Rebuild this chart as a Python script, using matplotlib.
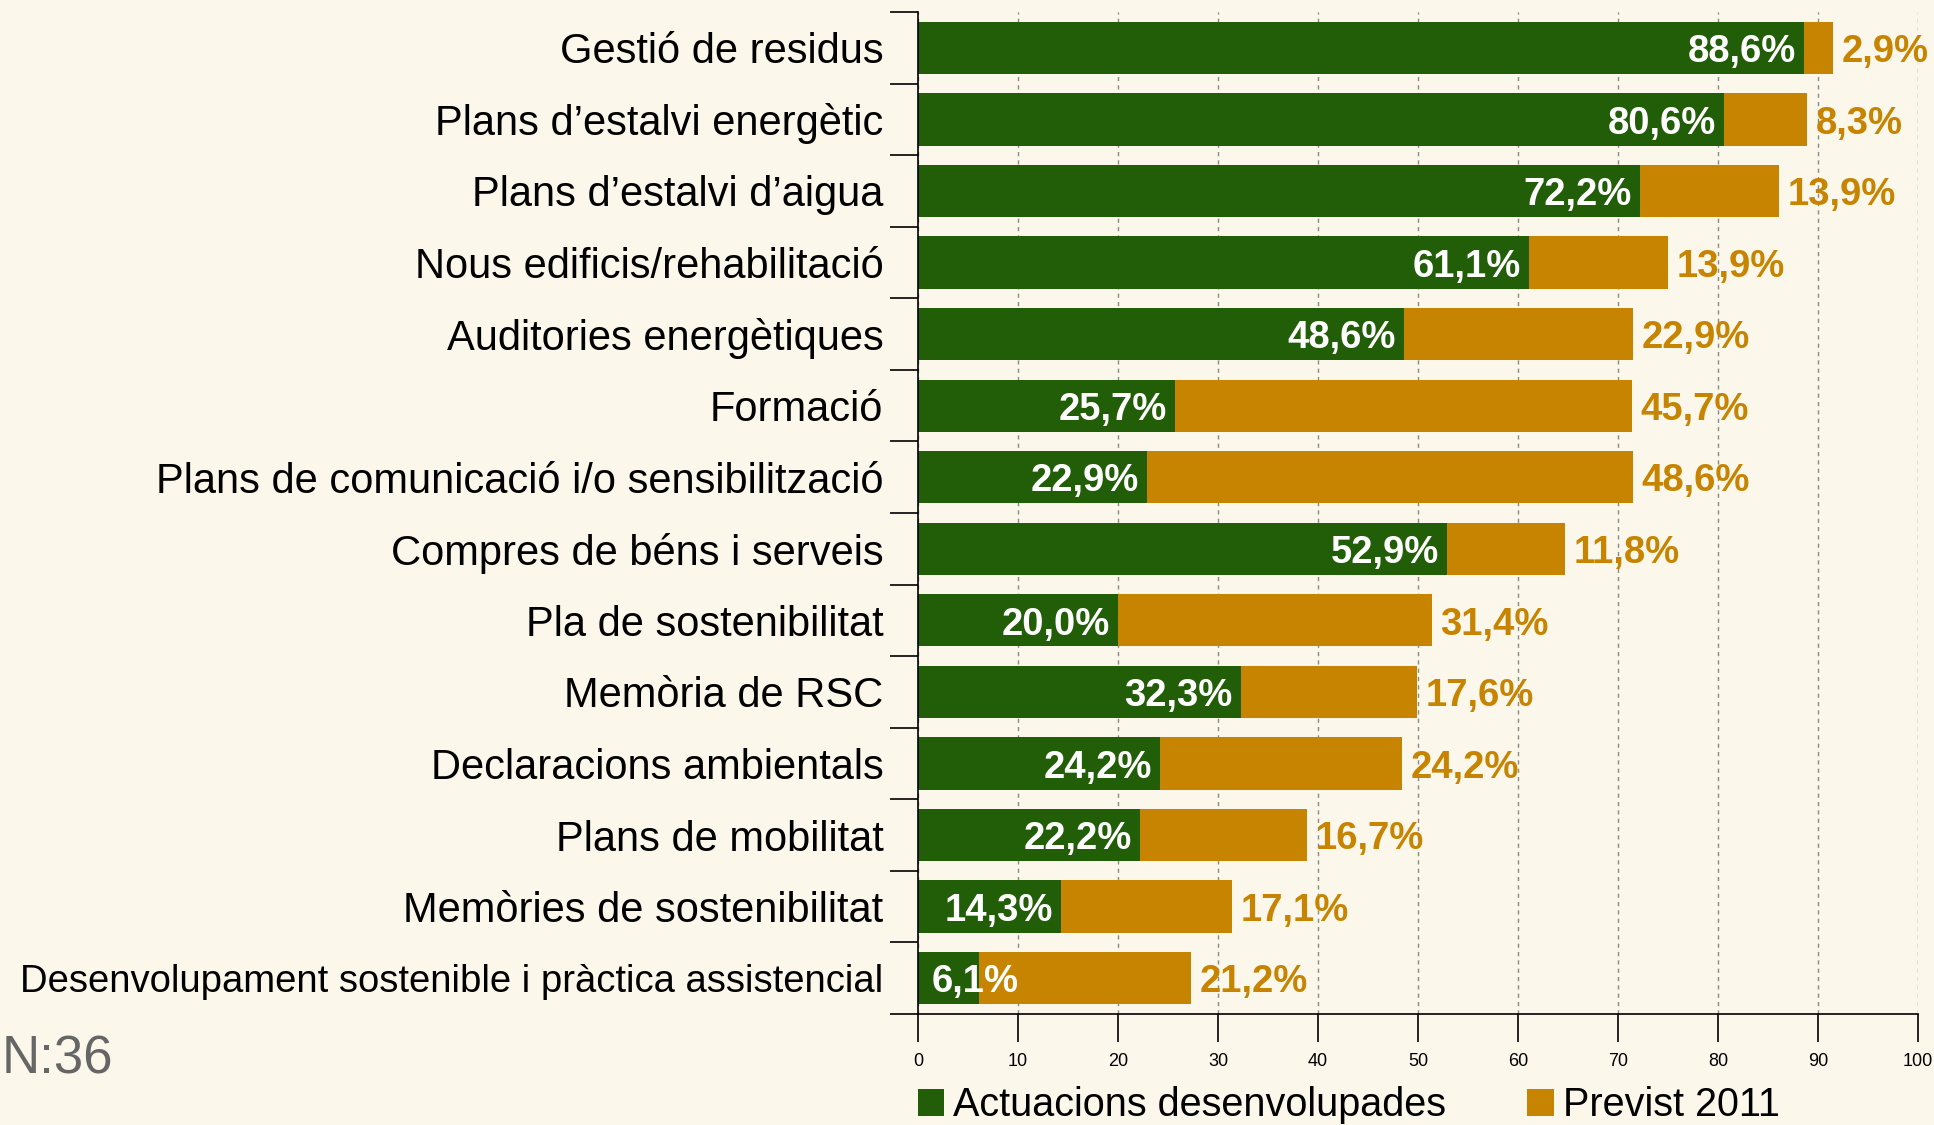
import matplotlib
matplotlib.use("Agg")
import matplotlib.pyplot as plt
from matplotlib.ticker import FixedLocator

# ---------------------------------------------------------------------------
# Data
# ---------------------------------------------------------------------------
categories = [
    "Gestió de residus",
    "Plans d\u2019estalvi energètic",
    "Plans d\u2019estalvi d\u2019aigua",
    "Nous edificis/rehabilitació",
    "Auditories energètiques",
    "Formació",
    "Plans de comunicació i/o sensibilització",
    "Compres de béns i serveis",
    "Pla de sostenibilitat",
    "Memòria de RSC",
    "Declaracions ambientals",
    "Plans de mobilitat",
    "Memòries de sostenibilitat",
    "Desenvolupament sostenible i pràctica assistencial",
]
desenvolupades = [88.6, 80.6, 72.2, 61.1, 48.6, 25.7, 22.9, 52.9, 20.0, 32.3, 24.2, 22.2, 14.3, 6.1]
previst = [2.9, 8.3, 13.9, 13.9, 22.9, 45.7, 48.6, 11.8, 31.4, 17.6, 24.2, 16.7, 17.1, 21.2]
xticks = [0, 10, 20, 30, 40, 50, 60, 70, 80, 90, 100]
series_names = ["Actuacions desenvolupades", "Previst 2011"]
n_text = "N:36"

GREEN = "#215E07"
ORANGE = "#C68400"
BG = "#FBF7EA"

plt.rcParams['font.family'] = ['Liberation Sans', 'DejaVu Sans']

fig = plt.figure(figsize=(19.34, 11.25), dpi=100, facecolor=BG)
ax = fig.add_axes([0.4747, 0.0987, 0.5170, 0.8906])
ax.set_facecolor(BG)

y = list(range(len(categories)))
bars1 = ax.barh(y, desenvolupades, height=0.73, color=GREEN, label=series_names[0], zorder=2)
bars2 = ax.barh(y, previst, left=desenvolupades, height=0.73, color=ORANGE, label=series_names[1], zorder=2)

ax.set_xlim(0, 100)
ax.set_ylim(len(categories) - 0.5, -0.5)

# value labels (comma as decimal separator)
for i, (g, o) in enumerate(zip(desenvolupades, previst)):
    lab_g = f"{g:.1f}%".replace(".", ",")
    lab_o = f"{o:.1f}%".replace(".", ",")
    if g < 10:
        ax.annotate(lab_g, (0, i), xytext=(10, -3), textcoords='offset points',
                    ha='left', va='center', color='white', fontsize=27.5,
                    fontweight='bold', zorder=3)
    else:
        ax.annotate(lab_g, (g, i), xytext=(-6, -3), textcoords='offset points',
                    ha='right', va='center', color='white', fontsize=27.5,
                    fontweight='bold', zorder=3)
    ax.annotate(lab_o, (g + o, i), xytext=(6, -3), textcoords='offset points',
                ha='left', va='center', color=ORANGE, fontsize=27.5,
                fontweight='bold', zorder=3)

# axes styling
ax.set_xticks(xticks)
ax.set_xticklabels([str(t) for t in xticks], fontsize=13)
ax.tick_params(axis='x', length=20, width=1.2, pad=8)
ax.xaxis.grid(True, linestyle=(0, (3, 3)), color='#888888', linewidth=1, zorder=0)

ax.set_yticks(y)
ax.set_yticklabels(categories, fontsize=30)
ax.yaxis.set_minor_locator(FixedLocator([k - 0.5 for k in range(len(categories) + 1)]))
ax.tick_params(axis='y', which='major', length=0, pad=25)
ax.tick_params(axis='y', which='minor', length=20, width=1.2)
ax.get_yticklabels()[-1].set_fontsize(27.5)

for s in ['top', 'right']:
    ax.spines[s].set_visible(False)
ax.spines['left'].set_linewidth(1.2)
ax.spines['bottom'].set_linewidth(1.2)

# legend under the axis
ax.legend(handles=[bars1, bars2], loc='center left', bbox_to_anchor=(0, -0.091),
          ncol=2, frameon=False, fontsize=28.5, borderpad=0, borderaxespad=0,
          handlelength=0.66, handleheight=0.66, handletextpad=0.23, columnspacing=2.05)

fig.text(0.001, 0.058, n_text, fontsize=38, color='#666666', ha='left', va='center')

fig.savefig("out.png", dpi=100, facecolor=BG)
